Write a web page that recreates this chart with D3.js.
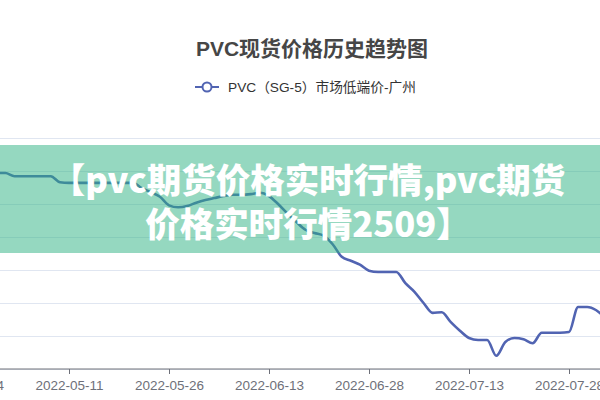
<!DOCTYPE html>
<html><head><meta charset="utf-8">
<script src="https://cdn.jsdelivr.net/npm/d3@7"></script>
<style>html,body{margin:0;padding:0;background:#fff;}svg{display:block;}</style>
</head><body>
<svg id="c" width="600" height="400"></svg>
<script>
const dates = ["2022-04-24","2022-04-25","2022-04-26","2022-04-27","2022-04-28","2022-04-29","2022-05-05","2022-05-06","2022-05-07","2022-05-09","2022-05-10",
"2022-05-11","2022-05-12","2022-05-13","2022-05-16","2022-05-17","2022-05-18","2022-05-19","2022-05-20","2022-05-23","2022-05-24","2022-05-25",
"2022-05-26","2022-05-27","2022-05-30","2022-05-31","2022-06-01","2022-06-02","2022-06-06","2022-06-07","2022-06-08","2022-06-09","2022-06-10",
"2022-06-13","2022-06-14","2022-06-15","2022-06-16","2022-06-17","2022-06-20","2022-06-21","2022-06-22","2022-06-23","2022-06-24","2022-06-27",
"2022-06-28","2022-06-29","2022-06-30","2022-07-01","2022-07-04","2022-07-05","2022-07-06","2022-07-07","2022-07-08","2022-07-11","2022-07-12",
"2022-07-13","2022-07-14","2022-07-15","2022-07-18","2022-07-19","2022-07-20","2022-07-21","2022-07-22","2022-07-25","2022-07-26","2022-07-27",
"2022-07-28","2022-07-29","2022-08-01","2022-08-02","2022-08-03"];
const prices = [8970,8970,8970,8970,8970,8920,8920,8920,8920,8920,8830,
8820,8820,8820,8820,8820,8820,8820,8820,8740,8680,8610,
8480,8450,8470,8520,8560,8590,8620,8640,8640,8650,8670,
8620,8500,8360,8230,8110,8060,8020,7890,7700,7640,7580,
7490,7470,7470,7470,7300,7170,7000,6850,6860,6710,6580,
6470,6440,6440,6200,6410,6470,6450,6390,6550,6550,6550,
6560,6940,6940,6890,6770];
const tickLabels = ["2022-04-24","2022-05-11","2022-05-26","2022-06-13","2022-06-28","2022-07-13","2022-07-28"];
const yTicks = [6000,6500,7000,7500,8000,8500,9000,9500];
const titleText = "PVC现货价格历史趋势图";
const legendText = "PVC（SG-5）市场低端价-广州";
const bannerLines = ["【pvc期货价格实时行情,pvc期货","价格实时行情2509】"];

const svg = d3.select("#c");
const step = 100/11;
const x = d3.scalePoint().domain(dates).range([69 - 11*step, 69 + (dates.length-12)*step]);
const y = d3.scaleLinear().domain([6000,9500]).range([369,138]);
const latin = "'Liberation Sans', Arial, 'Noto Sans CJK SC', sans-serif";

// grid
svg.append("g")
  .call(d3.axisLeft(y).tickValues(yTicks).tickSize(-700).tickFormat(""))
  .call(g=>{g.select(".domain").remove(); g.selectAll(".tick line").attr("stroke","#e0e6f1");});

// x axis
svg.append("g").attr("transform","translate(0,369)")
  .call(d3.axisBottom(x).tickValues(tickLabels).tickSize(5).tickPadding(6))
  .call(g=>{
    g.select(".domain").attr("stroke","#6e7079").attr("d","M-10,0H610");
    g.selectAll(".tick line").attr("stroke","#6e7079");
    g.selectAll(".tick text").attr("fill","#6e7079").style("font-family",latin).style("font-size","13.5px");
  });

// line
const line = d3.line().x((d,i)=>x(dates[i])).y(d=>y(d)).curve(d3.curveMonotoneX);
svg.append("path").datum(prices).attr("d",line).attr("fill","none")
  .attr("stroke","#5164b2").attr("stroke-width",2.6).attr("stroke-linejoin","round");

// title
svg.append("text").attr("x",312).attr("y",56).attr("text-anchor","middle")
  .style("font-family",latin).style("font-weight","bold").style("font-size","21px")
  .attr("fill","#464646").text(titleText);

// legend
svg.append("line").attr("x1",195).attr("x2",219).attr("y1",87).attr("y2",87)
  .attr("stroke","#5164b2").attr("stroke-width",2);
svg.append("circle").attr("cx",207).attr("cy",87).attr("r",4.5)
  .attr("fill","#fff").attr("stroke","#5164b2").attr("stroke-width",2);
svg.append("text").attr("x",228).attr("y",92).style("font-family",latin)
  .style("font-size","13.7px").attr("fill","#333").text(legendText);

// banner
svg.append("rect").attr("x",0).attr("y",145).attr("width",600).attr("height",108)
  .attr("fill","#2bb181").attr("fill-opacity",0.5);
svg.selectAll("text.banner").data(bannerLines).enter().append("text")
  .attr("class","banner").attr("x",308).attr("y",(d,i)=>193+i*44).attr("text-anchor","middle")
  .style("font-family","'Noto Sans CJK SC', sans-serif").style("font-weight","900").style("font-size","34.5px")
  .attr("fill","#fff").text(d=>d);
</script>
</body></html>
